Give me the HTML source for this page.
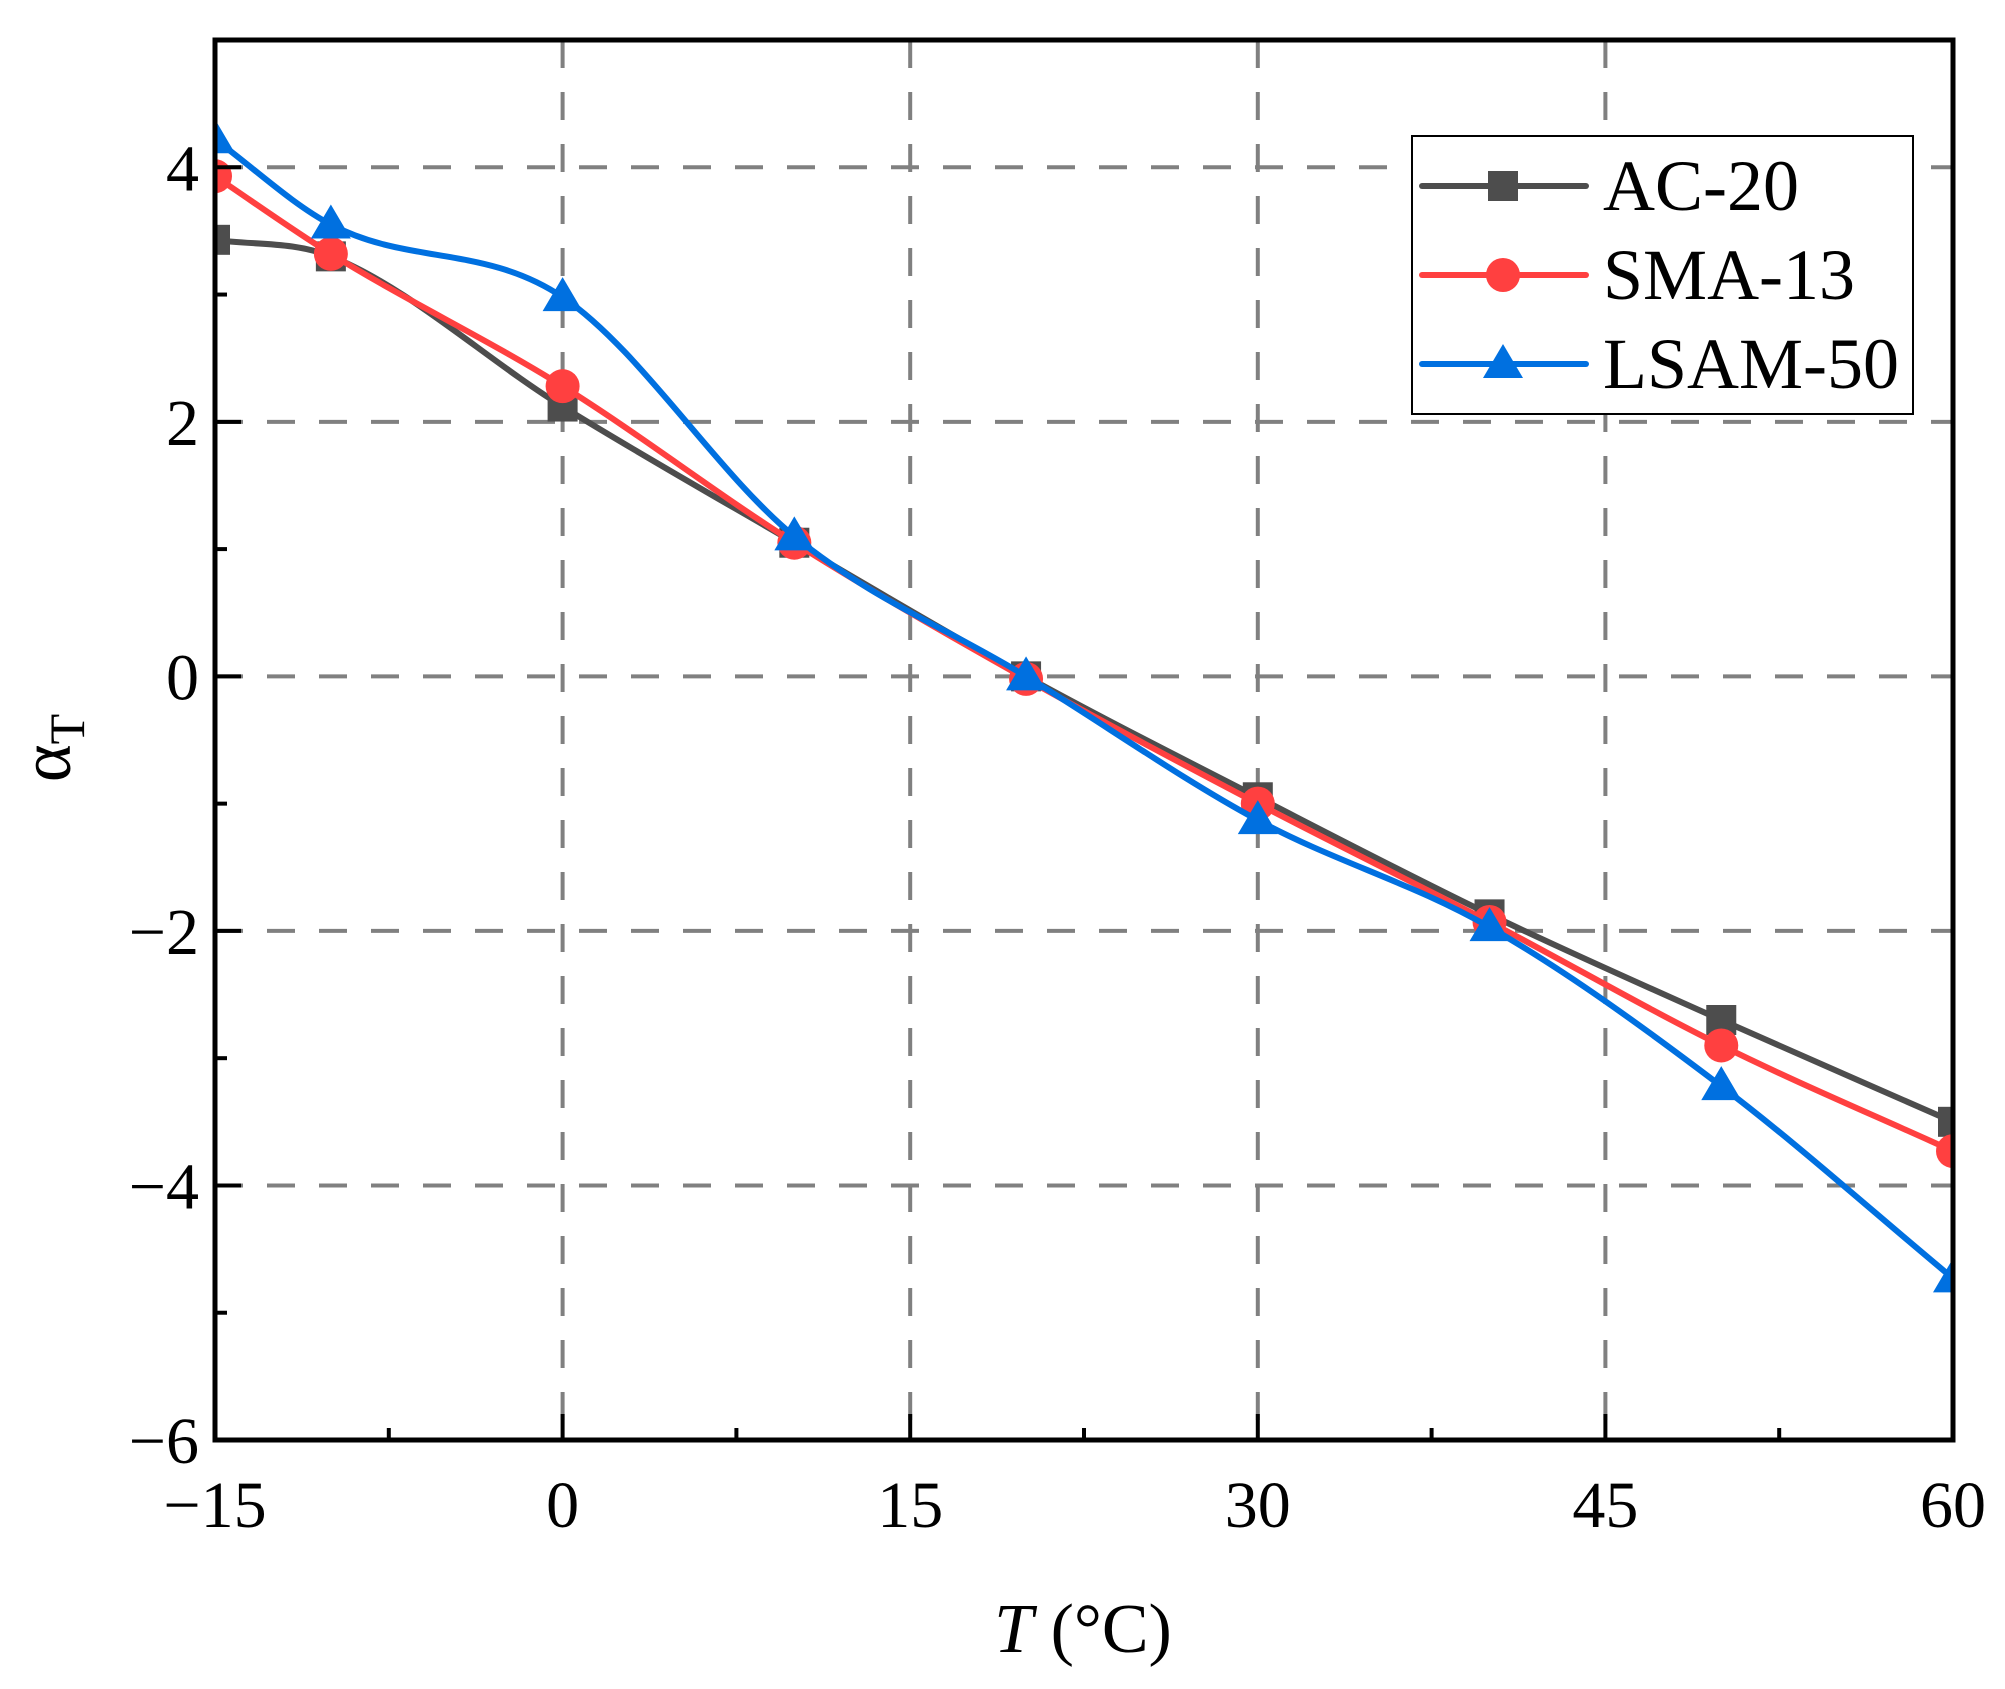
<!DOCTYPE html>
<html><head><meta charset="utf-8"><style>
html,body{margin:0;padding:0;background:#fff;}
svg{display:block;}
text{font-family:"Liberation Serif","Times New Roman",Times,serif;}
</style></head><body>
<svg id="s" width="2005" height="1689" viewBox="0 0 2005 1689" xmlns="http://www.w3.org/2000/svg"></svg>
<script>
const L=215,R=1953,T=40,B=1440;
const X=v=>L+(v+15)/75*(R-L), Y=v=>T+(5-v)/11*(B-T);
let h='';
[0,15,30,45].forEach(v=>{h+=`<line x1="${X(v)}" y1="${T}" x2="${X(v)}" y2="${B}" stroke="#808080" stroke-width="4" stroke-dasharray="28,24"/>`;});
[4,2,0,-2,-4].forEach(v=>{h+=`<line x1="${L}" y1="${Y(v)}" x2="${R}" y2="${Y(v)}" stroke="#808080" stroke-width="4" stroke-dasharray="28,24"/>`;});
const xs=[-15,-10,0,10,20,30,40,50,60];
const S=[
 {c:'#4d4d4d',d:[3.43,3.3,2.12,1.05,0,-0.95,-1.87,-2.7,-3.5],m:'sq'},
 {c:'#ff4040',d:[3.93,3.32,2.28,1.05,-0.02,-1.0,-1.93,-2.9,-3.73],m:'ci'},
 {c:'#0070e0',d:[4.22,3.55,2.98,1.1,0,-1.13,-1.97,-3.22,-4.73],m:'tr'}];
function path(p){const n=p.length,m=[];
for(let i=0;i<n;i++){let s;
 if(i==0)s=(p[1][1]-p[0][1])/(p[1][0]-p[0][0]);
 else if(i==n-1)s=(p[n-1][1]-p[n-2][1])/(p[n-1][0]-p[n-2][0]);
 else{const a=(p[i][1]-p[i-1][1])/(p[i][0]-p[i-1][0]),b=(p[i+1][1]-p[i][1])/(p[i+1][0]-p[i][0]);s=(a*b<=0)?0:(a+b)/2;}
 m.push(s);}
let d=`M${p[0][0]},${p[0][1]}`;for(let i=0;i<n-1;i++){const dx=(p[i+1][0]-p[i][0])/3;
d+=` C${p[i][0]+dx},${p[i][1]+m[i]*dx} ${p[i+1][0]-dx},${p[i+1][1]-m[i+1]*dx} ${p[i+1][0]},${p[i+1][1]}`;}return d;}
function mk(m,x,y,c){if(m=='sq')return `<rect x="${x-15}" y="${y-15}" width="30" height="30" fill="${c}"/>`;
if(m=='ci')return `<ellipse cx="${x}" cy="${y}" rx="17" ry="17" fill="${c}"/>`;
return `<polygon points="${x},${y-20} ${x-20},${y+14} ${x+20},${y+14}" fill="${c}"/>`;}
h+=`<defs><clipPath id="cp"><rect x="${L}" y="${T}" width="${R-L}" height="${B-T}"/></clipPath></defs><g clip-path="url(#cp)">`;
S.forEach(s=>{const p=xs.map((x,i)=>[X(x),Y(s.d[i])]);h+=`<path d="${path(p)}" fill="none" stroke="${s.c}" stroke-width="6"/>`;p.forEach(q=>h+=mk(s.m,q[0],q[1],s.c));});
h+='</g>';
h+=`<rect x="${L}" y="${T}" width="${R-L}" height="${B-T}" fill="none" stroke="#000" stroke-width="5"/>`;
for(let v=-15;v<=60;v+=7.5){const maj=(v%15===0);h+=`<line x1="${X(v)}" y1="${B}" x2="${X(v)}" y2="${B-(maj?26:12)}" stroke="#000" stroke-width="4"/>`;}
for(let v=-6;v<=5;v++){const maj=(v%2===0);h+=`<line x1="${L}" y1="${Y(v)}" x2="${L+(maj?26:12)}" y2="${Y(v)}" stroke="#000" stroke-width="4"/>`;}
[-15,0,15,30,45,60].forEach(v=>{h+=`<text x="${X(v)}" y="1527" font-size="66" text-anchor="middle">${v<0?'\u2212'+(-v):v}</text>`;});
[-6,-4,-2,0,2,4].forEach(v=>{h+=`<text x="${L-16}" y="${Y(v)+23}" font-size="66" text-anchor="end">${v<0?'\u2212'+(-v):v}</text>`;});
h+=`<text x="1083" y="1652" font-size="70" text-anchor="middle"><tspan font-style="italic">T</tspan> (°C)</text>`;
h+=`<text transform="translate(70,748) rotate(-90)" font-size="72" text-anchor="middle">α<tspan font-size="50" dy="14">T</tspan></text>`;
h+=`<rect x="1412" y="136" width="501" height="278" fill="#fff" stroke="#000" stroke-width="2"/>`;
[[S[0],'AC-20',186],[S[1],'SMA-13',275],[S[2],'LSAM-50',364]].forEach(([s,t,y])=>{
h+=`<line x1="1422" y1="${y}" x2="1586" y2="${y}" stroke="${s.c}" stroke-width="6" stroke-linecap="round"/>`+mk(s.m,1503,y,s.c);
h+=`<text x="1603" y="${y+24}" font-size="72">${t}</text>`;});
document.getElementById('s').innerHTML=h;
</script>
</body></html>
